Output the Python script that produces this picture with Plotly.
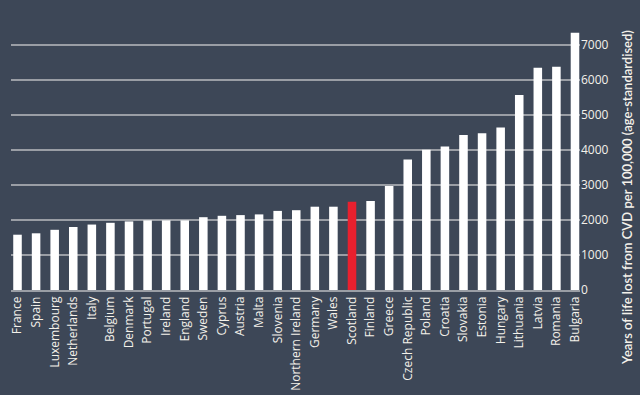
import plotly.graph_objects as go

countries = ["France", "Spain", "Luxembourg", "Netherlands", "Italy", "Belgium", "Denmark",
             "Portugal", "Ireland", "England", "Sweden", "Cyprus", "Austria", "Malta",
             "Slovenia", "Northern Ireland", "Germany", "Wales", "Scotland", "Finland",
             "Greece", "Czech Republic", "Poland", "Croatia", "Slovakia", "Estonia",
             "Hungary", "Lithuania", "Latvia", "Romania", "Bulgaria"]
values = [1580, 1620, 1720, 1800, 1870, 1920, 1960, 1990, 1990, 1990, 2080, 2120, 2140,
          2160, 2260, 2280, 2380, 2380, 2520, 2540, 2970, 3730, 4010, 4100, 4430, 4480,
          4640, 5570, 6350, 6380, 7350]
highlight = "Scotland"
y_ticks = [0, 1000, 2000, 3000, 4000, 5000, 6000, 7000]
y_title = "Years of life lost from CVD per 100,000 (age-standardised)"

colors = ["#e8202e" if c == highlight else "#ffffff" for c in countries]

fig = go.Figure(go.Bar(x=countries, y=values, marker=dict(color=colors, line=dict(width=0)),
                       width=0.46))

bg = "#3d4757"
fig.update_layout(
    width=640, height=395,
    paper_bgcolor=bg, plot_bgcolor=bg,
    margin=dict(l=11, r=60, t=24, b=105),
    showlegend=False,
    font=dict(family="Open Sans, sans-serif", color="#f4f1ea", size=12),
)
fig.update_xaxes(
    range=[-0.35, len(countries) - 1 + 0.27], automargin=False,
    tickangle=-90, tickfont=dict(size=12),
    showgrid=False, showline=True, linecolor="#9a9ea5", linewidth=1.5,
    ticks="", ticklen=0,
)
fig.update_yaxes(
    side="right", range=[0, 7600], tickvals=y_ticks, automargin=False,
    showgrid=True, gridcolor="#9a9ea5", gridwidth=1.5,
    zeroline=False, tickfont=dict(size=12),
)
fig.add_annotation(
    text=y_title, textangle=-90, showarrow=False,
    xref="paper", yref="paper", x=1.0826, y=0.35,
    xanchor="center", yanchor="middle",
    font=dict(size=13, family="Lato", weight=600, color="#f4f1ea"),
)
fig.write_html(
    "out.html",
    config={"displayModeBar": False},
    post_script="document.body.style.margin='0';document.body.style.background='%s';" % bg,
)
